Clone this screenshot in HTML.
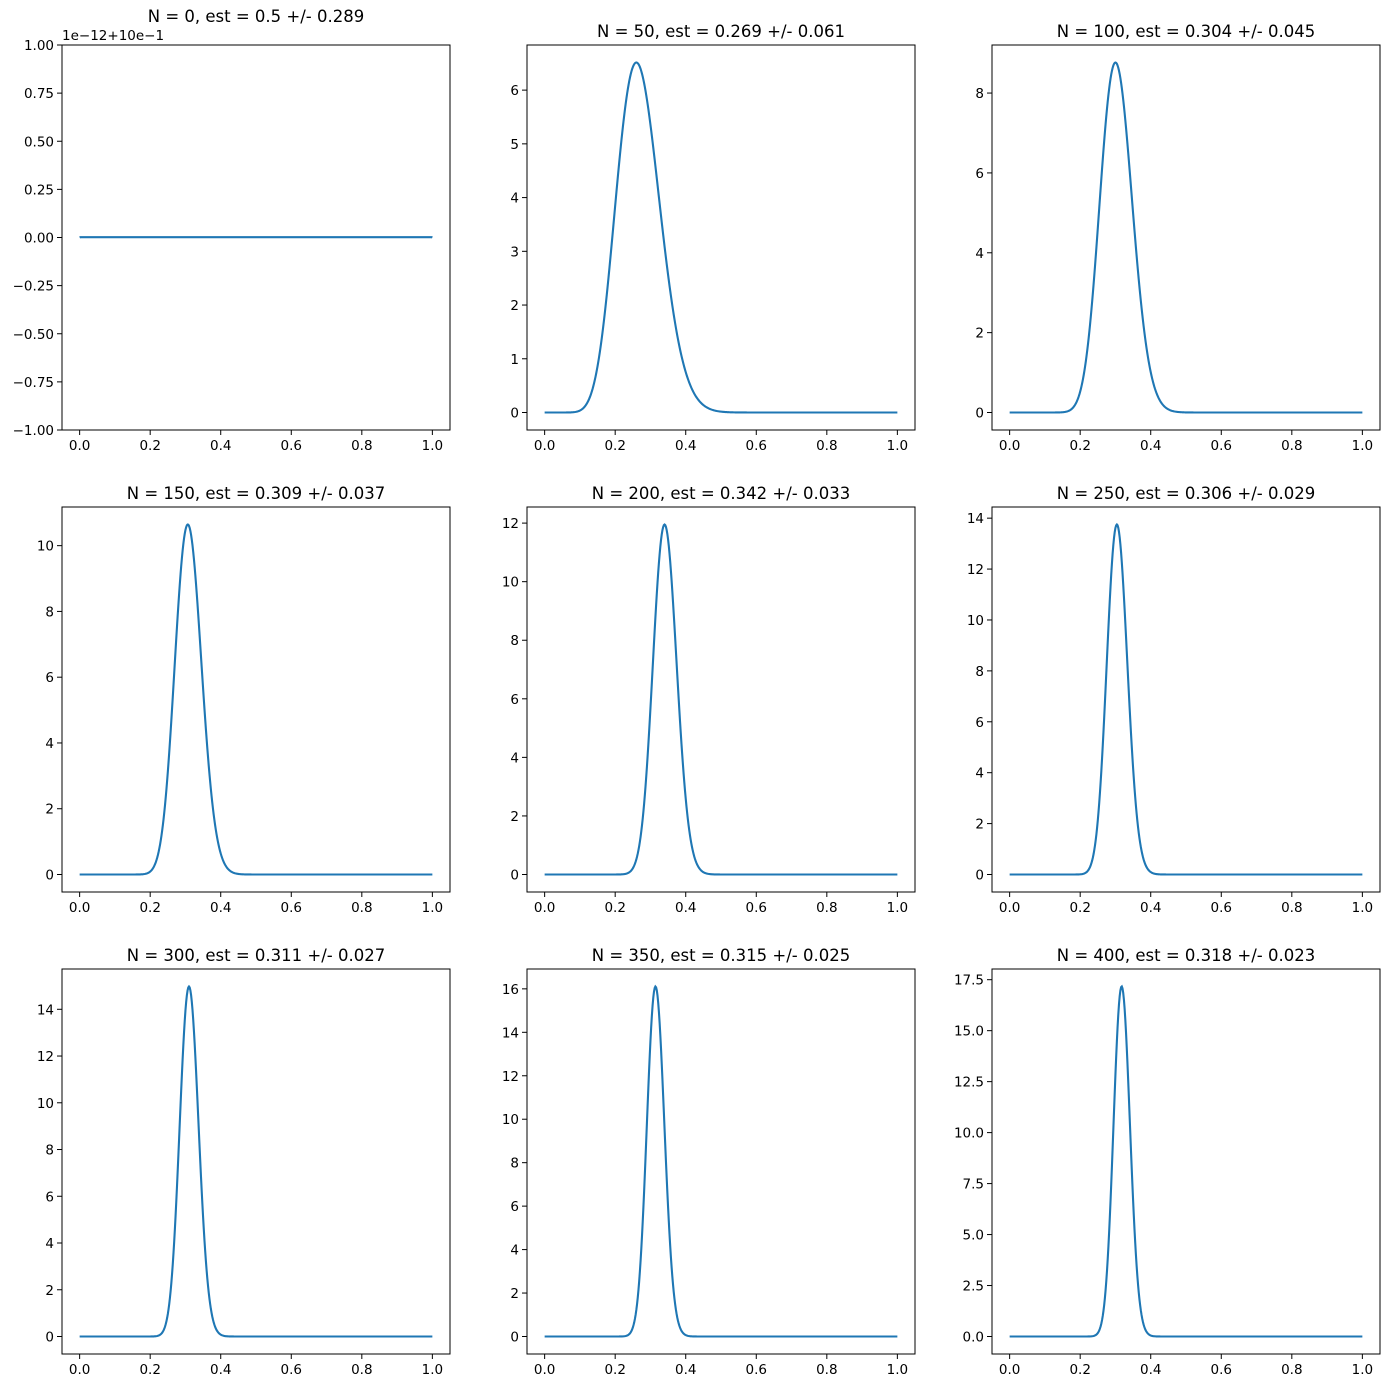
<!DOCTYPE html>
<html><head><meta charset="utf-8"><style>
body{margin:0;background:#fff}
svg{display:block;font-family:"DejaVu Sans","Liberation Sans",sans-serif}
</style></head><body>
<svg id="fig" width="1389" height="1388" xmlns="http://www.w3.org/2000/svg"></svg>
<script>
const nTrials=[0,50,100,150,200,250,300,350,400];
const heads=[0,13,30,46,68,76,93,110,127];
const yTicks=[
 [-1,-0.75,-0.5,-0.25,0,0.25,0.5,0.75,1],
 [0,1,2,3,4,5,6],
 [0,2,4,6,8],
 [0,2,4,6,8,10],
 [0,2,4,6,8,10,12],
 [0,2,4,6,8,10,12,14],
 [0,2,4,6,8,10,12,14],
 [0,2,4,6,8,10,12,14,16],
 [0,2.5,5,7.5,10,12.5,15,17.5]
];
const yTickDecimals=[2,0,0,0,0,0,0,0,1];
const xTicks=[0,0.2,0.4,0.6,0.8,1.0];

const NS="http://www.w3.org/2000/svg";
const svg=document.getElementById('fig');
function mk(t,a,p){const e=document.createElementNS(NS,t);for(const k in a)e.setAttribute(k,a[k]);(p||svg).appendChild(e);return e;}
function lgamma(z){const g=7,c=[0.99999999999980993,676.5203681218851,-1259.1392167224028,771.32342877765313,-176.61502916214059,12.507343278686905,-0.13857109526572012,9.9843695780195716e-6,1.5056327351493116e-7];
 if(z<0.5)return Math.log(Math.PI/Math.sin(Math.PI*z))-lgamma(1-z);z-=1;let x=c[0];for(let i=1;i<g+2;i++)x+=c[i]/(z+i);const t=z+g+0.5;return 0.5*Math.log(2*Math.PI)+(z+0.5)*Math.log(t)-t+Math.log(x);}
function betaPdf(x,a,b){if(x<=0||x>=1){if(a===1&&b===1)return 1;return 0;}
 return Math.exp((a-1)*Math.log(x)+(b-1)*Math.log(1-x)+lgamma(a+b)-lgamma(a)-lgamma(b));}
const lefts=[62,527,992],tops=[45,507,969],W=388,H=385;
for(let i=0;i<9;i++){
 const L=lefts[i%3],T=tops[Math.floor(i/3)];
 const a=heads[i]+1,b=nTrials[i]-heads[i]+1;
 const est=a/(a+b),sd=Math.sqrt(a*b/((a+b)*(a+b)*(a+b+1)));
 const g=mk('g',{});
 
 
 const xs=[],ys=[];
 for(let k=0;k<=500;k++){const x=k/500;xs.push(x);let y=betaPdf(x,a,b);if(i===0)y=(y-1)*1e12;ys.push(y);}
 let y0,y1;
 if(i===0){y0=-1;y1=1;}else{const m=Math.max(...ys);y0=-0.05*m;y1=1.05*m;}
 const sx=x=>L+(x+0.05)/1.1*W, sy=y=>T+H-(y-y0)/(y1-y0)*H;
 const fr=mk('rect',{x:L,y:T,width:W,height:H,fill:'none',stroke:'#000','stroke-width':1},g);
 
 xTicks.forEach(v=>{const X=sx(v);mk('line',{x1:X,x2:X,y1:T+H,y2:T+H+5,stroke:'#000'},g);
  const t=mk('text',{x:X,y:T+H+20,'font-size':13.5,'text-anchor':'middle'},g);t.textContent=v.toFixed(1);
  });
 yTicks[i].forEach(v=>{const Y=sy(v);mk('line',{x1:L-5,x2:L,y1:Y,y2:Y,stroke:'#000'},g);
  const t=mk('text',{x:L-8,y:Y+5,'font-size':13.5,'text-anchor':'end'},g);t.textContent=v.toFixed(yTickDecimals[i]).replace('-','\u2212');
  });
 let d='';xs.forEach((x,k)=>{d+=(k?'L':'M')+sx(x).toFixed(2)+','+sy(ys[k]).toFixed(2);});
 const p=mk('path',{d:d,fill:'none',stroke:'#1f77b4','stroke-width':2.1},g);
 
 const tt=mk('text',{x:L+W/2,y:i===0?T-23:T-8,'font-size':16.5,'text-anchor':'middle'},g);
 tt.textContent='N = '+nTrials[i]+', est = '+String(Math.round(est*1000)/1000)+' +/- '+String(Math.round(sd*1000)/1000);
 
 if(i===0){const o=mk('text',{x:L,y:T-5,'font-size':13.5},g);o.textContent='1e\u221212+10e\u22121';
  }
}
</script>
</body></html>
